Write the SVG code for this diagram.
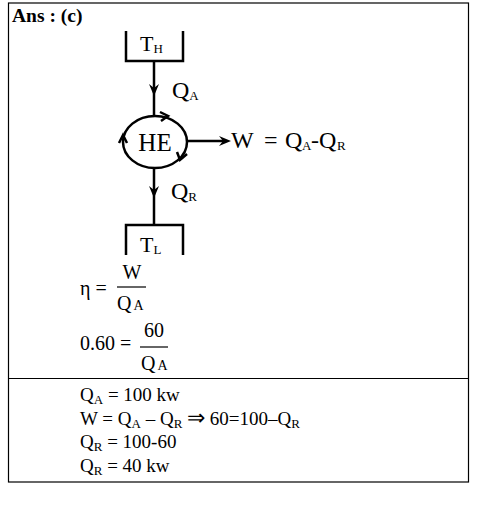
<svg xmlns="http://www.w3.org/2000/svg" width="499" height="510" viewBox="0 0 499 510">
<style>
.t{font-family:"Liberation Serif","Times New Roman",serif;fill:#000}
.ln{stroke:#000;stroke-width:2.5;fill:none}
.thin{stroke:#000;stroke-width:1.2;fill:none}
.ah{fill:#000;stroke:none}
</style>
<defs>
<path id="arrD" class="ah" d="M0,0 L-5,-12 L0,-8 L5,-12 Z"/>
<path id="arrR" class="ah" d="M0,0 L-12,-5 L-8,0 L-12,5 Z"/>
</defs>
<rect x="8.5" y="3" width="460" height="479" fill="#fff" stroke="#000" stroke-width="1.2"/>
<line class="thin" x1="8.5" y1="378.5" x2="468.5" y2="378.5"/>
<text class="t" x="12" y="22" font-size="19.5" font-weight="bold">Ans : (c)</text>

<g id="TH">
<path class="ln" d="M126,31 V61 H183 V31"/>
<text class="t" x="140" y="51" font-size="22">T<tspan font-size="13" dy="2">H</tspan></text>
</g>
<g id="HE">
<ellipse class="ln" cx="155" cy="142" rx="32" ry="26"/>
<text class="t" x="155" y="151" font-size="25" text-anchor="middle">HE</text>
<path class="ln" d="M160,112 L168,116 L161,121" stroke-width="2"/>
<path class="ln" d="M119,143 L123,135 L127,143" stroke-width="2"/>
<path class="ln" d="M177,152 L180,160 L187,154" stroke-width="2"/>
</g>
<g id="TL">
<path class="ln" d="M126,255 V225 H183 V255"/>
<text class="t" x="140" y="252" font-size="22">T<tspan font-size="13" dy="2">L</tspan></text>
</g>
<g id="connectors">
<line class="ln" x1="154" y1="61" x2="154" y2="116"/>
<use href="#arrD" x="154" y="96"/>
<line class="ln" x1="154" y1="168" x2="154" y2="225"/>
<use href="#arrD" x="154" y="198"/>
<line class="ln" x1="187" y1="141" x2="226" y2="141"/>
<use href="#arrR" x="231" y="141"/>
</g>
<text class="t" x="172" y="98" font-size="24">Q<tspan font-size="13" dy="2">A</tspan></text>
<text class="t" x="171" y="199" font-size="24">Q<tspan font-size="13" dy="2">R</tspan></text>
<text class="t" y="148" font-size="24"><tspan x="231">W</tspan><tspan x="264">=</tspan><tspan x="285">Q</tspan><tspan x="302" font-size="13" dy="2">A</tspan><tspan x="311" dy="-2">-</tspan><tspan x="319">Q</tspan><tspan x="337" font-size="13" dy="2">R</tspan></text>

<text class="t" x="80" y="295" font-size="20">η =</text>
<text class="t" x="132" y="279" font-size="20" text-anchor="middle">W</text>
<line class="thin" x1="117" y1="287" x2="146" y2="287"/>
<text class="t" x="117" y="310" font-size="20">Q<tspan font-size="14" dx="2">A</tspan></text>

<text class="t" x="80" y="350" font-size="20">0.60 =</text>
<text class="t" x="154" y="337" font-size="20" text-anchor="middle">60</text>
<line class="thin" x1="140" y1="347" x2="168" y2="347"/>
<text class="t" x="141" y="370" font-size="20">Q<tspan font-size="14" dx="2">A</tspan></text>

<text class="t" x="80" y="401" font-size="19">Q<tspan font-size="13" dy="3">A</tspan><tspan dy="-3"> = 100 kw</tspan></text>
<text class="t" x="80" y="425" font-size="19">W = Q<tspan font-size="13" dy="3">A</tspan><tspan dy="-3"> – Q</tspan><tspan font-size="13" dy="3">R</tspan><tspan dy="-3"> <tspan font-size="22">⇒</tspan> 60=100–Q</tspan><tspan font-size="13" dy="3">R</tspan></text>
<text class="t" x="80" y="448" font-size="19">Q<tspan font-size="13" dy="3">R</tspan><tspan dy="-3"> = 100-60</tspan></text>
<text class="t" x="80" y="472" font-size="19">Q<tspan font-size="13" dy="3">R</tspan><tspan dy="-3"> = 40 kw</tspan></text>
</svg>
